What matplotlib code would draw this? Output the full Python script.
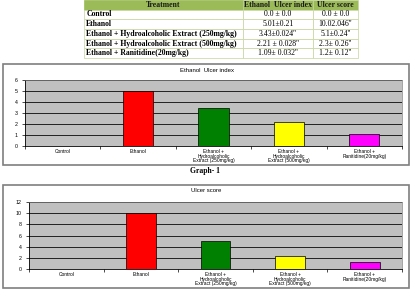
import numpy as np
import matplotlib
matplotlib.use('Agg')
import matplotlib.pyplot as plt
from matplotlib.patches import Rectangle

# datos de la tabla
tratamientos = ['Control', 'Ethanol', 'Ethanol + Hydroalcoholic Extract (250mg/kg)',
                'Ethanol + Hydroalcoholic Extract (500mg/kg)', 'Ethanol + Ranitidine(20mg/kg)']
indice_txt = ['0.0 \u00b1 0.0', '5.01\u00b10.21', '3.43\u00b10.024\'\'', '2.21 \u00b1 0.028\'\'', '1.09\u00b1 0.032\'\'']
score_txt = ['0.0 \u00b1 0.0', '10.02.046\'\'', '5.1\u00b10.24\'\'', '2.3\u00b1 0.26\'\'', '1.2\u00b1 0.12\'\'']
columnas = ['Treatment', 'Ethanol  Ulcer index', 'Ulcer score']

# datos de los graficos
categorias = ['Control', 'Ethanol', 'Ethanol +\nHydroalcoholic\nExtract (250mg/kg)',
              'Ethanol +\nHydroalcoholic\nExtract (500mg/kg)', 'Ethanol +\nRanitidine(20mg/kg)']
ulcer_index = [0.0, 5.01, 3.43, 2.21, 1.09]
ulcer_score = [0.0, 10.02, 5.1, 2.3, 1.2]
colores = ['#FFFFFF', '#FF0000', '#008000', '#FFFF00', '#FF00FF']

W, H = 413, 291
plt.rcParams['font.family'] = ['Liberation Sans', 'DejaVu Sans']
fig = plt.figure(figsize=(W / 100, H / 100), dpi=100)
fig.patch.set_facecolor('white')

def rect(x0, y0, x1, y1):
    # pixeles (desde arriba) -> fraccion de figura
    return [x0 / W, 1 - y1 / H, (x1 - x0) / W, (y1 - y0) / H]

# ---- tabla ----
axt = fig.add_axes(rect(84, 0, 358, 58))
axt.axis('off')
celdas = [[t, a, b] for t, a, b in zip(tratamientos, indice_txt, score_txt)]
tab = axt.table(cellText=celdas, colLabels=columnas, bbox=[0, 0, 1, 1],
                colWidths=[0.58, 0.255, 0.165], cellLoc='center')
tab.auto_set_font_size(False)
for (r, c), cell in tab.get_celld().items():
    cell.set_edgecolor('#C3D69B')
    cell.set_linewidth(0.5)
    txt = cell.get_text()
    txt.set_fontsize(5.6)
    txt.set_fontfamily('Liberation Serif')
    if r == 0:
        cell.set_facecolor('#9BBB59')
        txt.set_fontweight('bold')
        txt.set_color('#1a1a1a')
    else:
        cell.set_facecolor('white')
        if c == 0:
            txt.set_fontweight('bold')
            cell._loc = 'left'
            txt.set_horizontalalignment('left')
            cell.PAD = 0.015
tab[0, 0].set_edgecolor('#9BBB59')

# ---- graficos ----
def grafico(box, area, titulo_y, titulo, valores, ymax, paso):
    fig.patches.append(Rectangle((box[0], box[1]), box[2], box[3], transform=fig.transFigure,
                                 fill=False, edgecolor='#7f7f7f', linewidth=1.2))
    ax = fig.add_axes(area)
    x = np.arange(len(valores))
    ax.set_facecolor('#C0C0C0')
    ax.bar(x, valores, width=0.4, color=colores, edgecolor='black', linewidth=0.5, zorder=3)
    ax.set_xlim(-0.5, len(valores) - 0.5)
    ax.set_ylim(0, ymax)
    ax.set_yticks(np.arange(0, ymax + 1, paso))
    ax.yaxis.grid(True, color='#222222', linewidth=0.7, zorder=1)
    ax.set_xticks(x)
    ax.set_xticklabels(categorias, fontsize=3.5, linespacing=0.95)
    ax.set_xticks(np.arange(-0.5, len(valores), 1), minor=True)
    ax.tick_params(axis='x', which='major', length=0, pad=2)
    ax.tick_params(axis='x', which='minor', length=2, width=0.5)
    ax.tick_params(axis='y', labelsize=3.8, length=2.5, width=0.5, pad=3)
    for s in ['top', 'right']:
        ax.spines[s].set_color('#808080')
        ax.spines[s].set_linewidth(0.5)
    for s in ['left', 'bottom']:
        ax.spines[s].set_color('black')
        ax.spines[s].set_linewidth(0.6)
    fig.text(0.5, titulo_y, titulo, ha='center', va='center', fontsize=4.3)
    return ax

grafico(rect(3, 64, 409, 165), rect(25, 80, 402, 146), 1 - 71 / H,
        'Ethanol  Ulcer index', ulcer_index, 6, 1)
fig.text(205 / W, 1 - 171 / H, 'Graph- 1', ha='center', va='center', fontsize=5.5,
         fontweight='bold', family='Liberation Serif')
grafico(rect(3, 185, 409, 288), rect(29, 202, 402, 269), 1 - 191 / H,
        'Ulcer score', ulcer_score, 12, 2)

fig.savefig('out.png', dpi=100)
